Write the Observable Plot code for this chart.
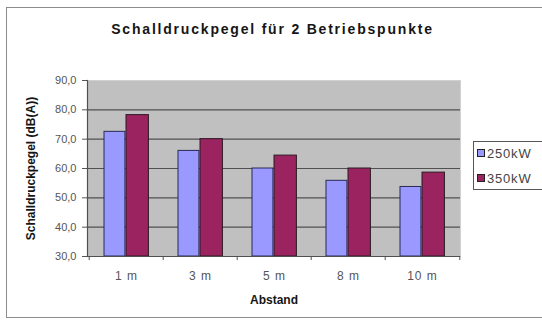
<!DOCTYPE html>
<html>
<head>
<meta charset="utf-8">
<script src="https://cdn.jsdelivr.net/npm/d3@7"></script>
<script src="https://cdn.jsdelivr.net/npm/@observablehq/plot@0.6"></script>
<style>
  body { margin: 0; background: #fff; }
  #chart { position: relative; width: 542px; height: 327px; overflow: hidden;
           font-family: "Liberation Sans", Arial, sans-serif; }
  #border { position: absolute; left: 6px; top: 7px; width: 560px; height: 311px;
            border: 1px solid #8c8c8c; box-sizing: border-box; }
  #title { position: absolute; left: 0; top: 21px; width: 545px; text-align: center;
           font-weight: bold; font-size: 14px; letter-spacing: 1.8px; color: #151515; }
  #plot { position: absolute; left: 0; top: 0; }
  #legend { position: absolute; left: 473px; top: 141px; width: 80px; height: 49px;
            border: 1px solid #555; box-sizing: border-box; background: #fff; }
  .item { position: absolute; left: 3px; height: 14px; font-size: 13px; line-height: 14px;
          color: #444; letter-spacing: 0.8px; white-space: nowrap; }
  .swatch { display: inline-block; width: 6px; height: 6px; border: 1px solid #222;
            margin-right: 2px; vertical-align: 1px; }
  g[aria-label="y-title"] text { letter-spacing: 1px; }
  g[aria-label="x-title"] text { letter-spacing: 1.5px; }
  g[aria-label="x-axis tick label"] text { letter-spacing: 1px; }
</style>
</head>
<body>
<div id="chart">
  <div id="border"></div>
  <div id="title"></div>
  <div id="plot"></div>
  <div id="legend"></div>
</div>
<script>
// Measurement distances and sound pressure levels in dB(A)
const distances = ["1 m", "3 m", "5 m", "8 m", "10 m"];
const level250 = [72.5, 66.0, 60.0, 55.8, 53.7];
const level350 = [78.2, 70.0, 64.4, 60.0, 58.6];
const seriesNames = ["250kW", "350kW"];
const seriesColors = ["#9999ff", "#9b2360"];
const yTicks = [30, 40, 50, 60, 70, 80, 90];
const titleText = "Schalldruckpegel für 2 Betriebspunkte";
const yTitle = "Schalldruckpegel (dB(A))";
const xTitle = "Abstand";

const rows250 = distances.map((d, i) => ({distance: d, value: level250[i]}));
const rows350 = distances.map((d, i) => ({distance: d, value: level350[i]}));

const W = 542, H = 327;
const margin = {top: 80, right: 82, bottom: 71, left: 87};
const band = (W - margin.left - margin.right) / distances.length;

const fmt = v => d3.format(".1f")(v).replace(".", ",");

const chart = Plot.plot({
  width: W,
  height: H,
  marginTop: margin.top,
  marginRight: margin.right,
  marginBottom: margin.bottom,
  marginLeft: margin.left,
  style: {fontFamily: "'Liberation Sans', Arial, sans-serif", background: "transparent"},
  x: {type: "band", domain: distances, padding: 0, axis: null},
  y: {domain: [30, 90], axis: null},
  marks: [
    // grey plot area with a faint upper edge
    Plot.frame({fill: "#c0c0c0", stroke: "#d0d0d0"}),
    // horizontal gridlines
    Plot.ruleY(yTicks.filter(t => t > 30 && t < 90), {stroke: "#505050", strokeWidth: 1.2}),
    // bars, two per distance group
    Plot.barY(rows250, {x: "distance", y1: 30, y2: "value", fill: seriesColors[0],
      stroke: "#2a2a55", strokeWidth: 1, insetLeft: 15, insetRight: band - 36.5}),
    Plot.barY(rows350, {x: "distance", y1: 30, y2: "value", fill: seriesColors[1],
      stroke: "#2a1a22", strokeWidth: 1, insetLeft: 37, insetRight: band - 60}),
    // axis lines
    Plot.ruleY([30], {stroke: "#505050", strokeWidth: 1.2}),
    Plot.frame({anchor: "left", stroke: "#505050", strokeWidth: 1.2}),
    // tick marks between distance groups
    Plot.ruleX(distances, {x: d => d, y1: 30, y2: 30, insetBottom: -4, dx: -band / 2, stroke: "#505050"}),
    Plot.ruleX(distances.slice(-1), {x: d => d, y1: 30, y2: 30, insetBottom: -4, dx: band / 2, stroke: "#505050"}),
    // y axis ticks and labels
    Plot.axisY({ticks: yTicks, tickSize: 5, tickPadding: 6, tickFormat: fmt,
      fontSize: 11, color: "#555", label: null}),
    // x axis category labels
    Plot.axisX({tickSize: 0, tickPadding: 15, fontSize: 12, color: "#555", label: null}),
    // axis titles
    Plot.text([yTitle], {frameAnchor: "left", textAnchor: "middle", dx: -56, rotate: -90,
      fontSize: 12, fontWeight: "bold", fill: "#151515", ariaLabel: "y-title"}),
    Plot.text([xTitle], {frameAnchor: "bottom", dy: 47, fontSize: 12,
      fontWeight: "bold", fill: "#151515", ariaLabel: "x-title"})
  ]
});
document.getElementById("plot").appendChild(chart);
document.getElementById("title").textContent = titleText;

// legend
const legend = document.getElementById("legend");
seriesNames.forEach((name, i) => {
  const item = document.createElement("div");
  item.className = "item";
  item.style.top = (5 + i * 25) + "px";
  const sw = document.createElement("span");
  sw.className = "swatch";
  sw.style.background = seriesColors[i];
  item.appendChild(sw);
  item.appendChild(document.createTextNode(name));
  legend.appendChild(item);
});
</script>
</body>
</html>
